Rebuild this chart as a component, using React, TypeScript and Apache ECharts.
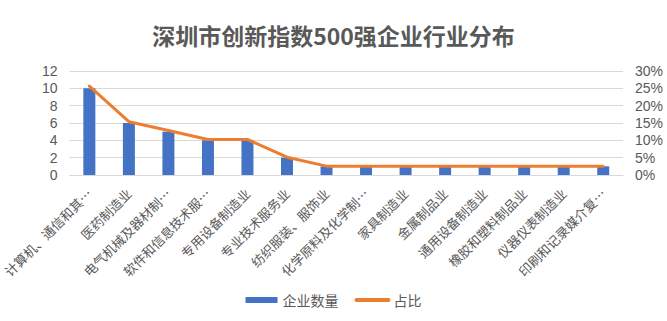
import React, { useEffect, useRef } from "react";
import * as echarts from "echarts";

// Industry categories (as shown on the axis)
const categories: string[] = [
  "计算机、通信和其…",
  "医药制造业",
  "电气机械及器材制…",
  "软件和信息技术服…",
  "专用设备制造业",
  "专业技术服务业",
  "纺织服装、服饰业",
  "化学原料及化学制…",
  "家具制造业",
  "金属制品业",
  "通用设备制造业",
  "橡胶和塑料制品业",
  "仪器仪表制造业",
  "印刷和记录媒介复…",
];

// Number of companies per industry
const companyCounts: number[] = [10, 6, 5, 4, 4, 2, 1, 1, 1, 1, 1, 1, 1, 1];

// Share of total (counts / 39)
const shares: number[] = [
  0.2564, 0.1538, 0.1282, 0.1026, 0.1026, 0.0513, 0.0256, 0.0256, 0.0256,
  0.0256, 0.0256, 0.0256, 0.0256, 0.0256,
];

const leftTicks = { min: 0, max: 12, interval: 2 };
const rightTicks = { min: 0, max: 0.3, interval: 0.05 };

const FONT = "'Noto Sans CJK SC', 'Noto Sans', sans-serif";
const NUM_FONT = "'Liberation Sans', Arial, sans-serif";
const GREY = "#595959";

export default function App() {
  const ref = useRef<HTMLDivElement>(null);

  useEffect(() => {
    if (!ref.current) return;
    const chart = echarts.init(ref.current, undefined, { renderer: "svg" });
    chart.setOption({
      animation: false,
      textStyle: { fontFamily: FONT },
      title: {
        text: "深圳市创新指数500强企业行业分布",
        left: "center",
        top: 18,
        textStyle: {
          fontFamily: FONT,
          fontSize: 23,
          fontWeight: "bold",
          color: GREY,
        },
      },
      legend: {
        bottom: 9,
        left: "center",
        itemGap: 16,
        itemWidth: 32,
        itemHeight: 6,
        textStyle: { fontFamily: FONT, fontSize: 14, color: GREY },
        data: [
          { name: "企业数量", icon: "rect" },
          {
            name: "占比",
            itemStyle: { opacity: 0 },
            lineStyle: { width: 4, cap: "round" },
          },
        ],
      },
      grid: { left: 67, right: 44, top: 71, height: 104, containLabel: false },
      xAxis: {
        type: "category",
        data: categories,
        axisLine: { show: true, lineStyle: { color: "#D9D9D9" } },
        axisTick: { show: false },
        axisLabel: {
          interval: 0,
          rotate: 45,
          fontFamily: FONT,
          fontSize: 13,
          lineHeight: 13,
          color: GREY,
          margin: 16,
        },
      },
      yAxis: [
        {
          type: "value",
          ...leftTicks,
          axisLine: { show: false },
          axisTick: { show: false },
          splitLine: { lineStyle: { color: "#D9D9D9" } },
          axisLabel: {
            fontFamily: NUM_FONT,
            fontSize: 14,
            lineHeight: 14,
            color: GREY,
            margin: 12,
          },
        },
        {
          type: "value",
          ...rightTicks,
          axisLine: { show: false },
          axisTick: { show: false },
          splitLine: { show: false },
          axisLabel: {
            fontFamily: NUM_FONT,
            fontSize: 14,
            lineHeight: 14,
            color: GREY,
            margin: 12,
            formatter: (v: number) => `${Math.round(v * 100)}%`,
          },
        },
      ],
      series: [
        {
          name: "企业数量",
          type: "bar",
          data: companyCounts,
          barWidth: 12,
          itemStyle: { color: "#4472C4" },
          yAxisIndex: 0,
        },
        {
          name: "占比",
          type: "line",
          data: shares,
          yAxisIndex: 1,
          symbol: "none",
          lineStyle: { color: "#ED7D31", width: 3, cap: "round", join: "round" },
          itemStyle: { color: "#ED7D31" },
        },
      ],
    });
    return () => chart.dispose();
  }, []);

  return (
    <div
      ref={ref}
      style={{ position: "fixed", left: 0, top: 0, width: 667, height: 321, background: "#fff" }}
    />
  );
}
